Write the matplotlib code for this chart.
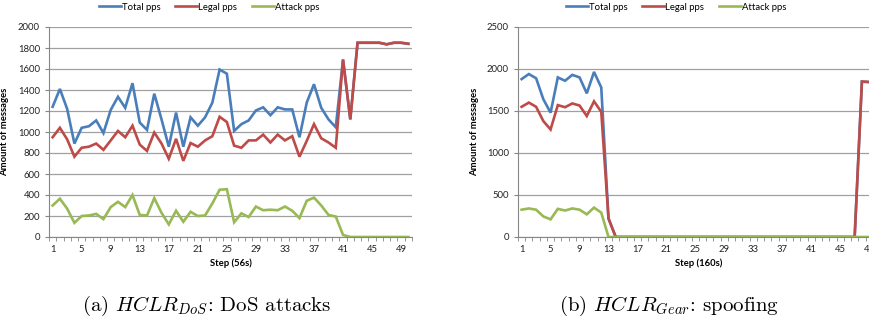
import matplotlib.pyplot as plt
import numpy as np

plt.rcParams['font.family'] = ['Lato', 'DejaVu Sans']
plt.rcParams['mathtext.fontset'] = 'cm'

steps = np.arange(1, 51)

# (a) DoS attacks, step = 56s
dos_legal = [950, 1040, 930, 765, 850, 860, 890, 830, 920, 1010,
             950, 1060, 880, 820, 995, 890, 745, 935, 725, 895,
             860, 920, 960, 1145, 1095, 870, 850, 920, 920, 975,
             900, 975, 920, 960, 765, 915, 1075, 940, 900, 850,
             1690, 1120, 1850, 1850, 1850, 1850, 1835, 1850, 1850, 1840]
dos_attack = [300, 365, 270, 135, 200, 205, 220, 170, 285, 335,
              285, 400, 210, 205, 370, 230, 120, 250, 145, 240,
              200, 205, 320, 450, 455, 140, 225, 190, 290, 255,
              260, 255, 290, 250, 180, 345, 375, 300, 210, 195,
              20, 0, 0, 0, 0, 0, 0, 0, 0, 0]
dos_total = [1240, 1410, 1220, 890, 1040, 1055, 1110, 990, 1210, 1335,
             1230, 1465, 1090, 1020, 1365, 1120, 860, 1185, 860, 1140,
             1060, 1140, 1280, 1595, 1555, 1010, 1075, 1110, 1205, 1235,
             1160, 1235, 1215, 1215, 950, 1280, 1455, 1230, 1120, 1045,
             1690, 1120, 1850, 1850, 1850, 1850, 1835, 1850, 1850, 1840]

# (b) Gear spoofing, step = 160s
gear_total = [1880, 1940, 1890, 1640, 1480, 1900, 1860, 1930, 1900, 1710,
              1965, 1780, 220] + [0] * 34 + [1850, 1845, 1845]
gear_legal = [1550, 1600, 1550, 1380, 1280, 1570, 1545, 1590, 1565, 1440,
              1615, 1490, 220] + [0] * 34 + [1850, 1845, 1845]
gear_attack = [325, 340, 325, 245, 210, 335, 315, 340, 325, 270,
               350, 290] + [0] * 38

fig = plt.figure(figsize=(8.69, 3.26), dpi=100)

blue = '#4a7ebb'
red = '#be4b48'
green = '#98b954'


def draw(ax, total, legal, attack, ymax, ystep, xlab):
    ax.plot(steps, total, color=blue, lw=1.9, label='Total pps', solid_joinstyle='miter')
    ax.plot(steps, legal, color=red, lw=1.9, label='Legal pps', solid_joinstyle='miter')
    ax.plot(steps, attack, color=green, lw=1.9, label='Attack pps', solid_joinstyle='miter')
    ax.set_xlim(0.5, 50.5)
    ax.set_ylim(0, ymax)
    ax.set_yticks(np.arange(0, ymax + 1, ystep))
    ax.set_xticks(np.arange(1, 51, 4))
    ax.set_xticks(np.arange(0.5, 51, 1), minor=True)
    ax.tick_params(axis='x', which='major', length=0, labelsize=6.8, pad=6, colors='#222222')
    ax.tick_params(axis='x', which='minor', length=3, color='#868686')
    ax.tick_params(axis='y', length=3, labelsize=6.8, color='#868686', colors='#222222')
    ax.yaxis.grid(True, color='#a0a0a0', lw=0.9)
    ax.set_axisbelow(True)
    for s in ['top', 'right']:
        ax.spines[s].set_visible(False)
    for s in ['left', 'bottom']:
        ax.spines[s].set_color('#868686')
    ax.set_xlabel(xlab, fontsize=6.8, fontweight='bold', labelpad=3)
    ax.set_ylabel('Amount of messages', fontsize=6.8, fontweight='bold', labelpad=6)


ax1 = fig.add_axes([49 / 869, 1 - 237 / 326, 363 / 869, 210 / 326])
draw(ax1, dos_total, dos_legal, dos_attack, 2000, 200, 'Step (56s)')
ax1.legend(loc='center', bbox_to_anchor=(209 / 869, 1 - 7 / 326),
           bbox_transform=fig.transFigure, ncol=3, frameon=False,
           fontsize=6.8, handlelength=2.3, handletextpad=0.1, columnspacing=1.6)

ax2 = fig.add_axes([518 / 869, 1 - 237 / 326, 362 / 869, 210 / 326])
draw(ax2, gear_total, gear_legal, gear_attack, 2500, 500, 'Step (160s)')
ax2.legend(loc='center', bbox_to_anchor=(676 / 869, 1 - 7 / 326),
           bbox_transform=fig.transFigure, ncol=3, frameon=False,
           fontsize=6.8, handlelength=2.3, handletextpad=0.1, columnspacing=1.6)

fig.text(207 / 869, 1 - 306 / 326, r'(a) $HCLR_{DoS}$: DoS attacks',
         ha='center', va='center', fontsize=15, family='cmr10')
fig.text(669 / 869, 1 - 306 / 326, r'(b) $HCLR_{Gear}$: spoofing',
         ha='center', va='center', fontsize=15, family='cmr10')

fig.savefig('out.png', dpi=100)
